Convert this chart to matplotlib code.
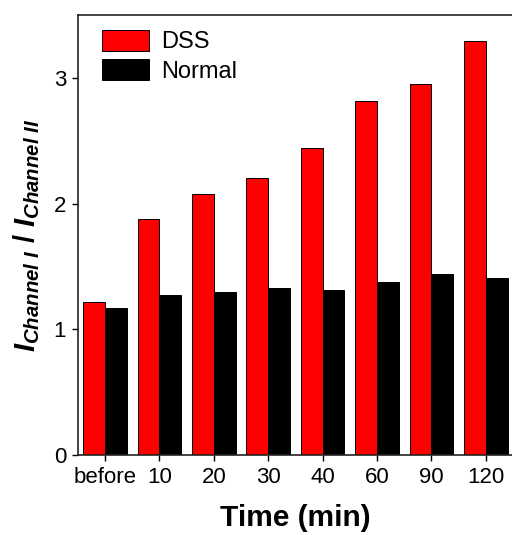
import matplotlib.pyplot as plt
import numpy as np

plt.rcParams['font.family'] = ['Liberation Sans', 'DejaVu Sans']
plt.rcParams['mathtext.fontset'] = 'custom'
plt.rcParams['mathtext.rm'] = 'Liberation Sans:bold'
plt.rcParams['mathtext.it'] = 'Liberation Sans:bold:italic'
plt.rcParams['mathtext.bf'] = 'Liberation Sans:bold'

# Данi
times = ['before', '10', '20', '30', '40', '60', '90', '120']
dss = [1.22, 1.875, 2.08, 2.20, 2.44, 2.82, 2.95, 3.29]
normal = [1.17, 1.27, 1.30, 1.33, 1.31, 1.38, 1.44, 1.41]

x = np.arange(len(times))
w = 0.4

fig = plt.figure(figsize=(5.12, 5.35), dpi=100)
ax = fig.add_axes([0.152, 0.1495, 0.85, 0.8224])

ax.bar(x - w / 2, dss, w, color='#ff0000', edgecolor='black', linewidth=0.7, label='DSS')
ax.bar(x + w / 2, normal, w, color='black', edgecolor='black', linewidth=0.7, label='Normal')

ax.set_xlim(-0.5, 7.5)
ax.set_ylim(0, 3.5)
ax.set_xticks(x)
ax.set_xticklabels(times)
ax.set_yticks([0, 1, 2, 3])
ax.tick_params(direction='out', length=4.5, width=1, labelsize=16, pad=4)
for s in ax.spines.values():
    s.set_linewidth(1.2)
    s.set_color('#222222')

ax.set_xlabel('Time (min)', fontsize=21.5, fontweight='bold', labelpad=12)
ax.set_ylabel(r'$I_{Channel\ I}$ / $I_{Channel\ II}$', fontsize=21, fontweight='bold', labelpad=8)

ax.legend(loc='upper left', bbox_to_anchor=(0.055, 0.966), frameon=False, fontsize=17,
          handlelength=1.98, handleheight=0.96, handletextpad=0.55, labelspacing=0.25,
          borderpad=0, borderaxespad=0)

fig.savefig('out.png', dpi=100)
